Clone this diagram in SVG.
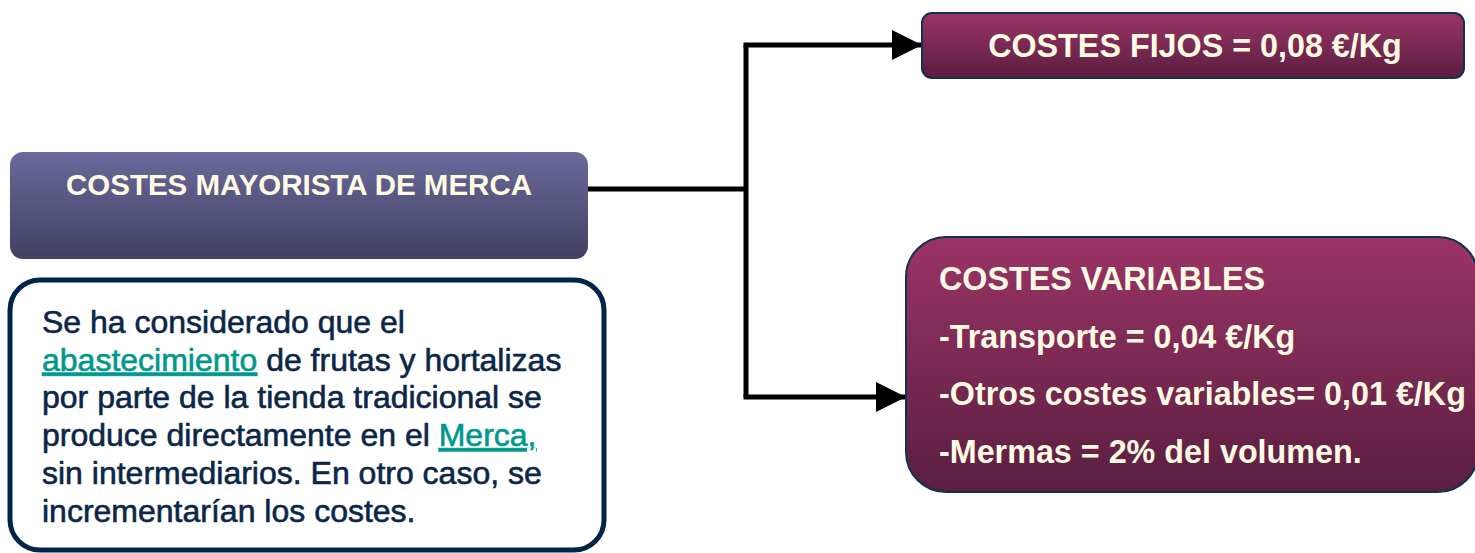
<svg xmlns="http://www.w3.org/2000/svg" width="1475" height="553" viewBox="0 0 1475 553">
  <style>
    .head { font-family: "Liberation Sans", Arial, sans-serif; font-weight: bold; fill: #fffbe3; }
    .body { font-family: "Liberation Sans", Arial, sans-serif; font-size: 32px; fill: #0b2648; stroke: #0b2648; stroke-width: 0.6px; }
    .link { fill: #00978c; stroke: #00978c; text-decoration: underline; }
    .conn { fill: none; stroke: #000; stroke-width: 5; }
  </style>
  <defs>
    <linearGradient id="gBlue" x1="0" y1="0" x2="0" y2="1">
      <stop offset="0" stop-color="#6a6a9c"/>
      <stop offset="1" stop-color="#414061"/>
    </linearGradient>
    <linearGradient id="gWine" x1="0" y1="0" x2="0" y2="1">
      <stop offset="0" stop-color="#9a3466"/>
      <stop offset="1" stop-color="#5a1e3f"/>
    </linearGradient>
    <marker id="arrow" markerUnits="userSpaceOnUse" markerWidth="30" markerHeight="30" refX="30" refY="15" orient="auto">
      <path d="M0,0 L30,15 L0,30 Z" fill="#000"/>
    </marker>
  </defs>

  <g id="connectors">
    <path class="conn" d="M588,189 H746"/>
    <path class="conn" d="M746,45 V397"/>
    <path class="conn" d="M743.5,45 H922" marker-end="url(#arrow)"/>
    <path class="conn" d="M743.5,397 H906" marker-end="url(#arrow)"/>
  </g>

  <g id="mayorista">
    <rect x="10" y="152" width="578" height="107" rx="13" fill="url(#gBlue)"/>
    <text class="head" x="299" y="195" font-size="29.5" text-anchor="middle">COSTES MAYORISTA DE MERCA</text>
  </g>

  <g id="nota">
    <rect x="10" y="280" width="594" height="270" rx="30" fill="#fff" stroke="#012449" stroke-width="5"/>
    <text class="body" x="42" y="0">
      <tspan x="42" y="333">Se ha considerado que el</tspan>
      <tspan x="42" y="370.7"><tspan class="link">abastecimiento</tspan> de frutas y hortalizas</tspan>
      <tspan x="42" y="408.4">por parte de la tienda tradicional se</tspan>
      <tspan x="42" y="446.1">produce directamente en el <tspan class="link">Merca,</tspan></tspan>
      <tspan x="42" y="483.8">sin intermediarios. En otro caso, se</tspan>
      <tspan x="42" y="521.5">incrementarían los costes.</tspan>
    </text>
  </g>

  <g id="fijos">
    <rect x="922" y="13" width="542" height="65" rx="10" fill="url(#gWine)" stroke="#12304f" stroke-width="2"/>
    <text class="head" x="1195" y="57" font-size="32.3" text-anchor="middle">COSTES FIJOS = 0,08 €/Kg</text>
  </g>

  <g id="variables">
    <rect x="906" y="237" width="572" height="255" rx="40" fill="url(#gWine)" stroke="#12304f" stroke-width="2"/>
    <text class="head" font-size="32.3">
      <tspan x="939" y="290">COSTES VARIABLES</tspan>
      <tspan x="939" y="347.5">-Transporte = 0,04 €/Kg</tspan>
      <tspan x="939" y="405">-Otros costes variables= 0,01 €/Kg</tspan>
      <tspan x="939" y="462.5">-Mermas = 2% del volumen.</tspan>
    </text>
  </g>
</svg>
